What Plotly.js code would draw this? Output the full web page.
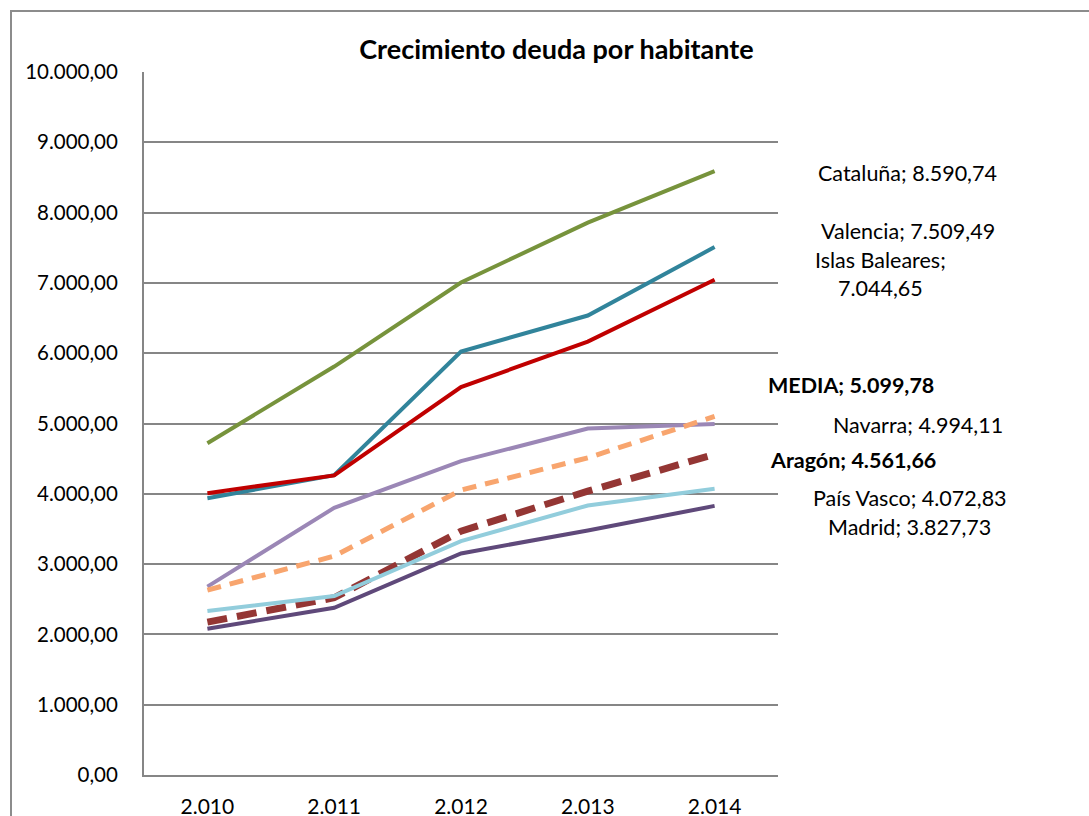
<!DOCTYPE html>
<html>
<head>
<meta charset="utf-8">
<script src="https://cdn.plot.ly/plotly-3.0.1.min.js"></script>
<style>
  body { margin: 0; background: #fff; overflow: hidden; }
  #frame { position: absolute; left: 10px; top: 10px; width: 2000px; height: 2000px;
           border-left: 2px solid #8c8c8c; border-top: 2px solid #8c8c8c; }
  #myGraph { position: absolute; left: 0; top: 0; }
</style>
</head>
<body>
<div id="frame"></div>
<div id="myGraph"></div>
<script>
let years = ['2.010', '2.011', '2.012', '2.013', '2.014'];

let cataluna  = [4720, 5810, 7005, 7858, 8590.74];
let valencia  = [3938, 4265, 6024, 6536, 7509.49];
let baleares  = [4009, 4262, 5517, 6166, 7044.65];
let navarra   = [2680, 3800, 4464, 4929, 4994.11];
let media     = [2630, 3114, 4052, 4512, 5099.78];
let aragon    = [2175, 2521, 3469, 4038, 4561.66];
let paisVasco = [2332, 2545, 3327, 3834, 4072.83];
let madrid    = [2081, 2379, 3152, 3479, 3827.73];

let myGraph = document.getElementById('myGraph');

function serie(name, values, color, width, dash) {
  return {
    type: 'scatter',
    mode: 'lines',
    name: name,
    x: years,
    y: values,
    line: { color: color, width: width, dash: dash || 'solid' },
    hoverinfo: 'skip'
  };
}

let data = [
  serie('Cataluña', cataluna, '#77933C', 4),
  serie('Valencia', valencia, '#31849B', 4),
  serie('Islas Baleares', baleares, '#C00000', 4),
  serie('Navarra', navarra, '#9B87B6', 4),
  serie('MEDIA', media, '#F8A56E', 5, '14px,9px'),
  serie('Aragón', aragon, '#943634', 7, '20px,10px'),
  serie('País Vasco', paisVasco, '#92CDDC', 4),
  serie('Madrid', madrid, '#5F497A', 4)
];

// formato español: 8.590,74
function fmt(v) {
  let parts = v.toFixed(2).split('.');
  return parts[0].replace(/\B(?=(\d{3})+(?!\d))/g, '.') + ',' + parts[1];
}
let last = a => a[a.length - 1];

function label(text, x, y, bold, anchor) {
  return {
    xref: 'paper', yref: 'paper', x: x, y: y,
    text: bold ? '<b>' + text + '</b>' : text,
    showarrow: false, xanchor: anchor || 'center', yanchor: 'middle',
    align: 'center',
    font: { family: 'Lato, sans-serif', size: 21.5, color: '#000' }
  };
}

let layout = {
  width: 1089,
  height: 816,
  margin: { l: 144, r: 311, t: 72, b: 41, pad: 0 },
  paper_bgcolor: 'rgba(0,0,0,0)',
  plot_bgcolor: 'rgba(0,0,0,0)',
  separators: ',.',
  showlegend: false,
  font: { family: 'Lato, sans-serif', size: 21, color: '#000' },
  title: {
    text: '<b>Crecimiento deuda por habitante</b>',
    font: { family: 'Lato, sans-serif', size: 27, color: '#000' },
    x: 0.511, xanchor: 'center', y: 0.939, yanchor: 'middle'
  },
  xaxis: {
    type: 'category',
    range: [-0.5, 4.5],
    showgrid: false,
    zeroline: false,
    showline: true,
    linecolor: '#868686',
    linewidth: 2,
    ticks: '',
    ticklabelstandoff: 12,
    tickfont: { family: 'Lato, sans-serif', size: 21, color: '#000' }
  },
  yaxis: {
    range: [0, 10000],
    dtick: 1000,
    tickformat: ',.2f',
    showgrid: true,
    gridcolor: '#868686',
    gridwidth: 2,
    zeroline: false,
    showline: true,
    linecolor: '#868686',
    linewidth: 2,
    ticks: '',
    ticklabelstandoff: 20,
    tickfont: { family: 'Lato, sans-serif', size: 20.5, color: '#000' }
  },
  annotations: [
    label('Cataluña; ' + fmt(last(cataluna)), 1.205, 0.857),
    label('Valencia; ' + fmt(last(valencia)), 1.205, 0.774),
    label('Islas Baleares;<br>' + fmt(last(baleares)), 1.161, 0.712),
    label('MEDIA; ' + fmt(last(media)), 0.981, 0.555, true, 'left'),
    label('Navarra; ' + fmt(last(navarra)), 1.221, 0.498),
    label('Aragón; ' + fmt(last(aragon)), 0.984, 0.448, true, 'left'),
    label('País Vasco; ' + fmt(last(paisVasco)), 1.208, 0.394),
    label('Madrid; ' + fmt(last(madrid)), 1.208, 0.353)
  ]
};

Plotly.newPlot(myGraph, data, layout, { displayModeBar: false, staticPlot: true });
</script>
</body>
</html>
